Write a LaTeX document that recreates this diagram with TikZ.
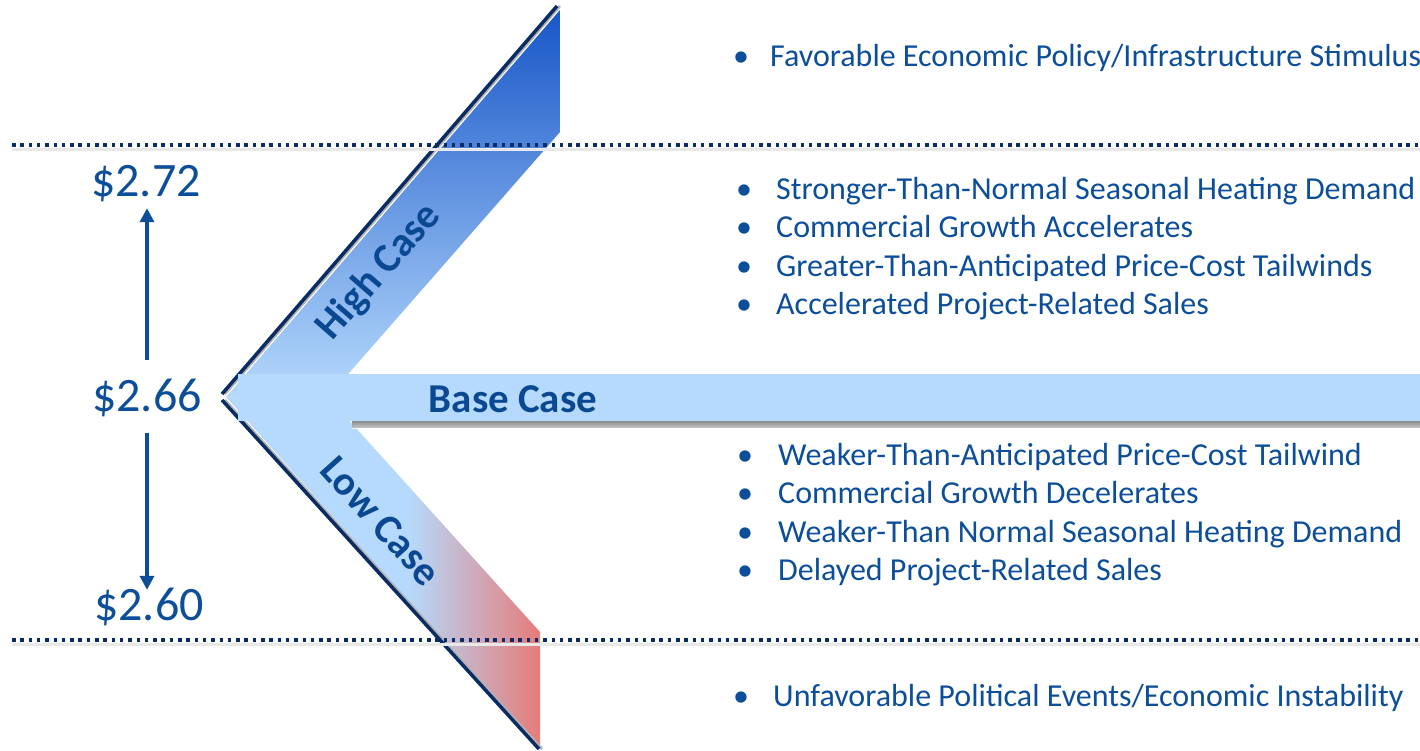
\documentclass[tikz,border=0pt]{standalone}
\usepackage{fontspec}
\setmainfont{Carlito}
\usetikzlibrary{arrows.meta}
\definecolor{txtblue}{RGB}{12,78,154}
\definecolor{navy}{RGB}{10,44,100}
\definecolor{lightb}{RGB}{182,218,253}
\definecolor{darkb}{RGB}{24,86,200}
\definecolor{redc}{RGB}{229,124,122}
\definecolor{basetxt}{RGB}{10,72,145}
\pgfdeclarehorizontalshading{lowshade}{100bp}{color(0bp)=(lightb); color(25bp)=(lightb); color(54bp)=(lightb); color(75bp)=(redc); color(100bp)=(redc)}
\tikzset{
  bullettxt/.style={anchor=base west, inner sep=0pt, text=txtblue, font=\fontsize{32}{38}\selectfont},
  bulletdot/.style={anchor=base, inner sep=0pt, text=txtblue, font=\fontsize{32}{38}\selectfont},
  value/.style={anchor=base, inner sep=0pt, text height=30pt, text depth=0pt, text=txtblue, font=\fontsize{48}{56}\selectfont},
  casetxt/.style={inner sep=0pt, text=basetxt, font=\fontsize{41}{46}\selectfont\bfseries},
  dotline/.style={navy, line width=3.5pt, dash pattern=on 3.5pt off 4.8pt},
  dotshadow/.style={black!9, line width=3pt},
  edgeline/.style={navy, line width=3.5pt},
  edgeshadow/.style={black!30, line width=2.5pt},
  vArrow/.style={txtblue, line width=4pt, -{Triangle[width=14pt,length=14pt]}}
}
\begin{document}
\begin{tikzpicture}[x=1pt,y=-1pt]
\useasboundingbox (0,0) rectangle (1420,750);
% upper band
\path[top color=darkb, bottom color=lightb] (226,397) -- (560,10) -- (560,132) -- (328,397) -- cycle;
% lower band
\path[shading=lowshade] (226,397) -- (328,397) -- (540,632) -- (540,748) -- cycle;
% edge lines
\coordinate (ua) at (222,394);
\coordinate (ub) at (557,6);
\coordinate (la) at (222,400);
\coordinate (lb) at (539,749);
\draw[edgeshadow] ([xshift=3pt]ua) -- ([xshift=3pt]ub);
\draw[edgeshadow] ([xshift=3pt]la) -- ([xshift=3pt]lb);
\draw[edgeline] (ua) -- (ub);
\draw[edgeline] (la) -- (lb);
% base band
\fill[top color=black!35, bottom color=white, opacity=0.7] (352,421) rectangle (1420,428);
\fill[lightb] (238,374) rectangle (1420,421);
\node[casetxt] (base) at (513,399) {Base Case};
\node[casetxt, rotate=49] (high) at (379,272) {High Case};
\node[casetxt, rotate=-48] (low) at (381,521) {Low Case};
% dotted lines
\coordinate (d1a) at (12,145);
\coordinate (d1b) at (1420,145);
\coordinate (d2a) at (12,640);
\coordinate (d2b) at (1420,640);
\draw[dotshadow] ([yshift=-4pt]d1a) -- ([yshift=-4pt]d1b);
\draw[dotshadow] ([yshift=-4pt]d2a) -- ([yshift=-4pt]d2b);
\draw[dotline] (d1a) -- (d1b);
\draw[dotline] (d2a) -- (d2b);
% values
\node[value] (v272) at (146,196) {\$2.72};
\node[value] (v266) at (147,411) {\$2.66};
\node[value] (v260) at (149,620) {\$2.60};
\draw[vArrow] ([yshift=21pt]v266.north) -- ([yshift=-12pt]v266.north |- v272.south);
\draw[vArrow] ([yshift=-22pt]v266.south) -- (v266.south |- v260.north);
% bullets
\node[bulletdot] (b0) at (741,66) {•};
\node[bullettxt] (t0) at (770,66) {Favorable Economic Policy/Infrastructure Stimulus};
\node[bulletdot] (b1) at (744,199) {•};
\node[bullettxt] (t1) at (776,199) {Stronger-Than-Normal Seasonal Heating Demand};
\node[bulletdot] (b2) at (744,237.5) {•};
\node[bullettxt] (t2) at (776,237.5) {Commercial Growth Accelerates};
\node[bulletdot] (b3) at (744,276) {•};
\node[bullettxt] (t3) at (776,276) {Greater-Than-Anticipated Price-Cost Tailwinds};
\node[bulletdot] (b4) at (744,314.5) {•};
\node[bullettxt] (t4) at (776,314.5) {Accelerated Project-Related Sales};
\node[bulletdot] (b5) at (745,465) {•};
\node[bullettxt] (t5) at (778,465) {Weaker-Than-Anticipated Price-Cost Tailwind};
\node[bulletdot] (b6) at (745,503.5) {•};
\node[bullettxt] (t6) at (778,503.5) {Commercial Growth Decelerates};
\node[bulletdot] (b7) at (745,542) {•};
\node[bullettxt] (t7) at (778,542) {Weaker-Than Normal Seasonal Heating Demand};
\node[bulletdot] (b8) at (745,580.5) {•};
\node[bullettxt] (t8) at (778,580.5) {Delayed Project-Related Sales};
\node[bulletdot] (b9) at (741,706) {•};
\node[bullettxt] (t9) at (773,706) {Unfavorable Political Events/Economic Instability};
\end{tikzpicture}
\end{document}
